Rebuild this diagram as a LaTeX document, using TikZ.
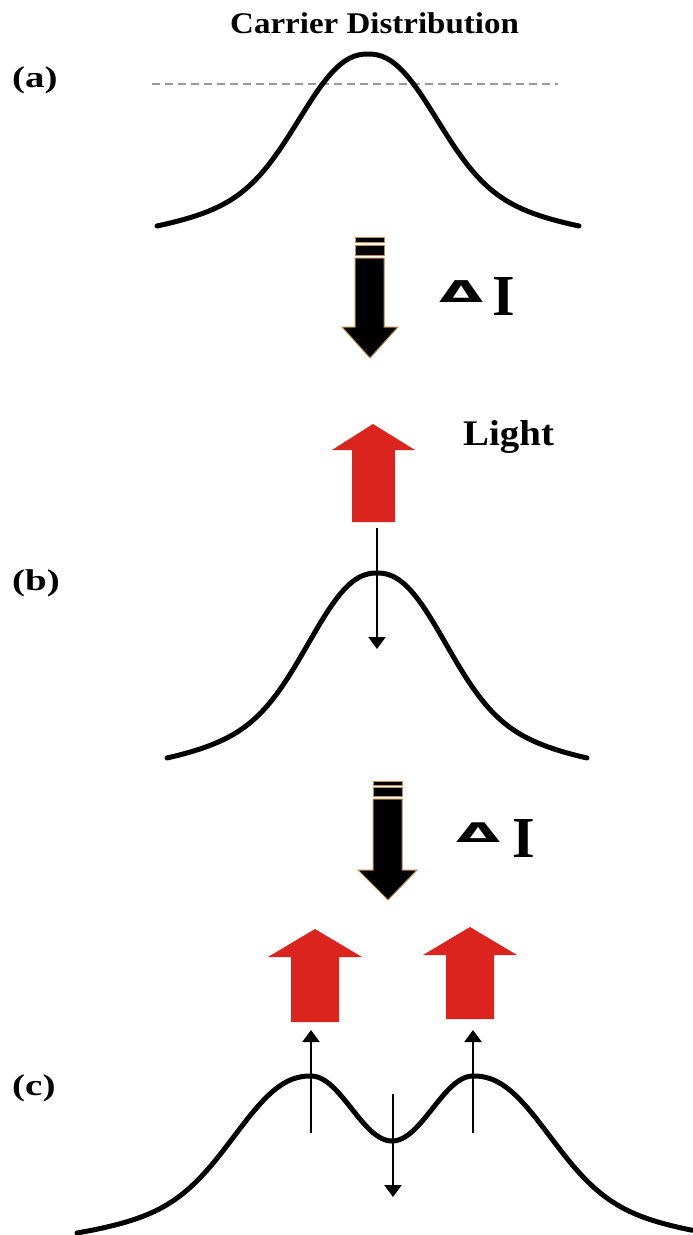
\documentclass[tikz,border=0pt]{standalone}
\usepackage{fontspec}
\setmainfont{Liberation Serif}
\newfontfamily\dvfont{DejaVu Sans}
\usetikzlibrary{arrows.meta}
\definecolor{lightred}{RGB}{220,36,31}
\definecolor{tanedge}{RGB}{190,140,80}
\begin{document}
\begin{tikzpicture}[x=1pt,y=-1pt,
  declare function={
    bellA(\d)=0.7*exp(-(abs(\d)/85)^2.3)+0.3*(exp(-(\d/100)^2/2.88)-0.2130)/0.7870;
  },
  curve/.style={line width=5pt,line cap=round,line join=round},
  thinarrow/.style={line width=2.4pt,-{Triangle[width=17pt,length=12pt]}},
  redarrow/.style={fill=lightred,draw=none},
  blackarrow/.style={fill=black,draw=tanedge,line width=1pt,line join=miter},
  lbl/.style={inner sep=0pt,anchor=base west,font=\bfseries\fontsize{30}{30}\selectfont},
  deltri/.style={inner sep=0pt,anchor=base west,font=\dvfont\bfseries\fontsize{30}{30}\selectfont},
  bigI/.style={inner sep=0pt,anchor=base west,font=\bfseries\fontsize{58}{58}\selectfont}]
\useasboundingbox (0,0) rectangle (693,1235);
\fill[white] (0,0) rectangle (693,1235);

% ---------- texts ----------
\node[lbl] (title) at (230,33) {\scalebox{1.1}[1]{Carrier Distribution}};
\node[lbl] (la) at (12,87) {\scalebox{1.3}[1]{(a)}};
\node[lbl] (lb) at (12,590) {\scalebox{1.3}[1]{(b)}};
\node[lbl] (lc) at (12,1095) {\scalebox{1.3}[1]{(c)}};
\node[lbl,font=\bfseries\fontsize{36}{36}\selectfont] (light) at (463,445) {\scalebox{1.08}[1]{Light}};

\node[deltri] (d1) at (439,302) {\scalebox{1.9}[1]{Δ}};
\node[bigI] (i1) at (492,315) {I};
\node[deltri] (d2) at (456,842) {\scalebox{1.9}[0.9]{Δ}};
\node[bigI] (i2) at (512,857) {I};

% ---------- (a) ----------
\draw[gray!80,line width=1.5pt,dash pattern=on 8pt off 5pt] (152,84) -- (558,84);
\draw[curve] plot[domain=-211:211,samples=141] ({368+\x},{226-172*bellA(\x)});

% black arrow 1
\fill[blackarrow] (355,237) rectangle (384,242);
\fill[blackarrow] (355,245) rectangle (384,255);
\filldraw[blackarrow] (355,258) -- (384,258) -- (384,327) -- (398,327) -- (370,358)
  -- (342,327) -- (355,327) -- cycle;
\draw[draw=tanedge,line width=1pt] (355,237) rectangle (384,242) (355,245) rectangle (384,255);

% red arrow 1
\fill[redarrow] (373,424) -- (415,450) -- (395,450) -- (395,522) -- (352,522)
  -- (352,450) -- (332,450) -- cycle;

% ---------- (b) ----------
\draw[curve] plot[domain=-210:210,samples=141] ({377+\x},{758-185*bellA(\x/210*211)});
\coordinate (b1s) at (377,528);
\coordinate (b1e) at (377,649);
\draw[thinarrow] (b1s) -- (b1e);

% black arrow 2
\fill[blackarrow] (373,781) rectangle (402,785);
\fill[blackarrow] (373,787) rectangle (402,796);
\filldraw[blackarrow] (373,799) -- (402,799) -- (402,870) -- (417,870) -- (388,900)
  -- (358,870) -- (373,870) -- cycle;
\draw[draw=tanedge,line width=1pt] (373,781) rectangle (402,785) (373,787) rectangle (402,796);

% red arrows 2,3
\fill[redarrow] (315,929) -- (362,957) -- (339,957) -- (339,1022) -- (291,1022)
  -- (291,957) -- (268,957) -- cycle;
\fill[redarrow] (470,927) -- (517,955) -- (494,955) -- (494,1019) -- (446,1019)
  -- (446,955) -- (423,955) -- cycle;

% ---------- (c) ----------
\draw[curve] plot[domain=-234:0,samples=80] ({311+\x},{1233-157*bellA(\x/234*211)})
  -- plot[domain=0:1,samples=40] ({311+81*\x},{1076+65*(1-cos(180*\x))/2})
  -- plot[domain=0:1,samples=40] ({392+81*\x},{1141-65*(1-cos(180*\x))/2})
  -- plot[domain=0:219,samples=80] ({473+\x},{1233-157*bellA(\x/234*211)});
\coordinate (c1s) at (311,1133);
\coordinate (c1e) at (311,1030);
\coordinate (c2s) at (473,1133);
\coordinate (c2e) at (473,1030);
\coordinate (c3s) at (393,1094);
\coordinate (c3e) at (393,1197);
\draw[thinarrow] (c1s) -- (c1e);
\draw[thinarrow] (c2s) -- (c2e);
\draw[thinarrow] (c3s) -- (c3e);
\end{tikzpicture}
\end{document}
